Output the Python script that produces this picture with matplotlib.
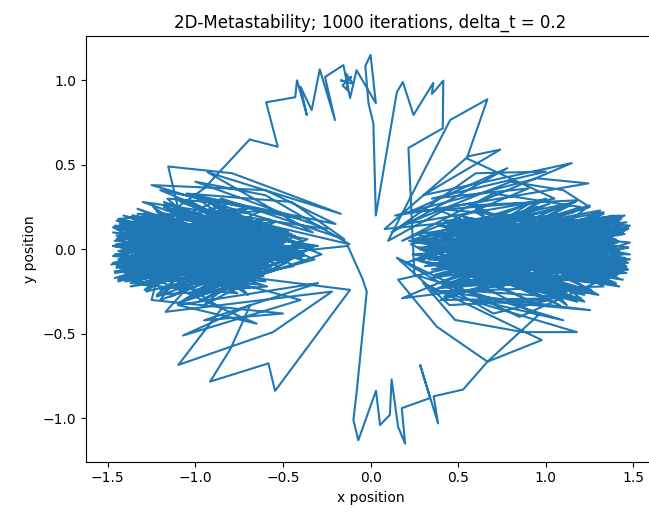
import numpy as np
import matplotlib
matplotlib.use("Agg")
import matplotlib.pyplot as plt

# trajectory pieces (in path order)
right_a_x = [1.36, 0.58, 1.44, 0.42, 1.28, 0.66, 1.47, 0.35, 1.39, 0.51,
             1.31, 0.72, 1.45, 0.46, 1.25, 0.61, 1.42, 0.30, 1.34, 0.55,
             1.48, 0.68, 1.37, 0.40, 1.29, 0.63, 1.43, 0.49, 1.33, 0.76,
             1.46, 0.38, 1.27, 0.57, 1.41, 0.44, 1.35, 0.70, 1.44, 0.33,
             1.30, 0.60, 1.47, 0.47, 1.38, 0.65, 1.24, 0.52, 1.43, 0.41,
             1.36, 0.74, 1.45, 0.36, 1.32, 0.59, 1.40, 0.48, 1.28, 0.69,
             1.46, 0.43, 1.34, 0.62, 1.42, 0.31, 1.37, 0.56, 1.26, 0.67]
right_a_y = [-0.04, 0.10, -0.14, 0.03, 0.16, -0.09, 0.01, -0.17, 0.12, 0.06,
             -0.20, -0.03, 0.09, 0.15, -0.07, -0.12, 0.19, 0.00, -0.10, 0.13,
             0.04, -0.22, -0.16, 0.08, 0.14, 0.02, -0.05, -0.14, 0.22, 0.11,
             -0.11, 0.05, 0.07, -0.19, -0.01, 0.17, 0.11, -0.06, -0.18, 0.09,
             0.15, 0.01, -0.08, -0.11, 0.03, 0.18, -0.24, -0.02, 0.10, 0.14,
             -0.13, -0.15, 0.20, 0.04, -0.03, 0.12, 0.06, -0.21, -0.17, 0.07,
             0.12, -0.04, -0.09, 0.16, 0.18, -0.10, 0.00, 0.03, -0.06, -0.13]

right_c_x = [1.38, 0.52, 1.45, 0.39, 1.30, 0.63, 1.42, 0.45, 1.35, 0.70,
             1.47, 0.34, 1.28, 0.58, 1.40, 0.49, 1.44, 0.67, 1.33, 0.41,
             1.46, 0.55, 1.37, 0.73, 1.26, 0.46, 1.43, 0.60, 1.39, 0.36,
             1.48, 0.64, 1.31, 0.50, 1.41, 0.43, 1.36, 0.69, 1.45, 0.56,
             1.29, 0.38, 1.42, 0.61, 1.34, 0.47, 1.46, 0.72, 1.38, 0.53,
             1.27, 0.44, 1.43, 0.66, 1.40, 0.29, 1.35, 0.59, 1.47, 0.48]
right_c_y = [0.07, -0.05, -0.12, 0.14, 0.02, -0.16, 0.17, 0.05, -0.08, -0.11,
             0.12, 0.09, -0.18, -0.02, 0.05, 0.16, -0.03, -0.13, 0.15, 0.01,
             -0.10, 0.12, 0.09, -0.07, -0.15, 0.04, 0.18, -0.19, 0.00, 0.10,
             -0.06, 0.07, 0.13, -0.14, -0.17, 0.03, 0.04, 0.15, -0.09, -0.04,
             0.19, -0.10, -0.01, 0.08, 0.11, -0.20, -0.14, 0.02, 0.06, 0.13,
             -0.07, -0.08, 0.14, 0.00, -0.21, 0.05, 0.10, -0.12, 0.01, 0.17]

right_fan_x = [0.85, 0.08, 0.557, 0.74, 0.30, 1.148, 0.62, 0.14, 0.95, 1.243,
               0.45, 0.10, 0.454, 0.667, 0.549, 1.05, 0.20, 0.80, 1.10]
right_fan_y = [0.20, 0.12, 0.55, 0.59, 0.32, 0.51, 0.28, 0.20, 0.42, 0.39,
               0.25, 0.05, 0.765, 0.888, 0.538, 0.30, 0.15, 0.40, 0.35]

right_b_x = [1.25, 0.25, 1.30, 0.53, 1.21, 0.39, 1.41, 0.64, 1.33, 0.18,
             1.47, 0.57, 1.18, 0.45, 1.22, 0.71, 1.27, 0.34, 1.33, 0.60,
             1.44, 0.50, 1.27, 0.28, 1.17, 0.66, 1.30, 0.42, 1.31, 0.55,
             1.40, 0.37, 1.48, 0.62, 1.20, 0.47, 1.42, 0.22, 1.34, 0.58,
             1.12, 0.44, 1.45, 0.68, 1.25, 0.32, 1.26, 0.54, 1.41, 0.40]
right_b_y = [0.25, -0.06, -0.27, 0.19, 0.07, -0.23, -0.15, 0.03, 0.21, -0.29,
             -0.12, 0.26, 0.29, -0.10, -0.31, 0.13, 0.16, -0.25, -0.22, 0.22,
             0.10, -0.18, -0.26, 0.00, 0.28, 0.17, -0.08, -0.28, 0.23, 0.08,
             -0.20, 0.24, 0.14, -0.14, -0.29, -0.24, 0.20, 0.05, -0.17, 0.27,
             -0.33, 0.15, 0.11, -0.20, 0.26, -0.05, -0.24, 0.09, 0.05, -0.30]

right_e_x = [1.10, 0.35, 1.02, 0.28, 1.18, 0.40, 0.95, 0.31, 1.12, 0.25,
             1.00, 0.38, 1.20, 0.33, 0.92, 0.42, 1.08, 0.27, 1.16, 0.36,
             0.98, 0.30, 1.14, 0.44, 0.90, 0.23, 1.06, 0.37, 1.22, 0.32]
right_e_y = [-0.29, 0.04, 0.27, -0.07, -0.31, 0.08, 0.25, -0.03, -0.26, 0.06,
             0.30, -0.09, -0.24, 0.02, 0.28, -0.05, -0.33, 0.09, 0.22, -0.01,
             -0.28, 0.07, 0.26, -0.10, -0.30, 0.03, 0.24, -0.06, -0.27, 0.05]

right_d_x = [1.34, 0.62, 1.41, 0.37, 1.46, 0.55, 1.29, 0.68, 1.43, 0.42,
             1.37, 0.57, 1.25, 0.75, 1.45, 0.33, 1.39, 0.51, 1.32, 0.65,
             1.47, 0.40, 1.36, 0.60, 1.42, 0.47, 1.28, 0.71, 1.44, 0.35,
             1.38, 0.54, 1.46, 0.63, 1.30, 0.44, 1.41, 0.58, 1.35, 0.27,
             1.48, 0.66, 1.33, 0.49, 1.40, 0.74, 1.27, 0.39, 1.44, 0.57,
             1.37, 0.45, 1.45, 0.61, 1.31, 0.52, 1.42, 0.24, 1.39, 0.68]
right_d_y = [-0.09, 0.11, 0.04, -0.15, 0.16, 0.06, -0.05, -0.10, 0.10, 0.17,
             -0.17, -0.01, 0.08, 0.12, -0.12, -0.06, 0.20, 0.03, -0.02, -0.18,
             0.13, 0.08, -0.14, 0.15, 0.00, -0.09, -0.19, 0.05, 0.11, -0.12,
             0.03, 0.19, -0.07, -0.04, 0.14, 0.10, -0.11, -0.16, 0.07, 0.01,
             -0.03, 0.14, 0.18, -0.08, -0.16, 0.04, 0.09, -0.20, -0.10, 0.12,
             0.15, 0.02, -0.05, -0.13, 0.12, 0.07, -0.22, -0.03, 0.05, 0.09]

right_fan2_x = [0.95, 0.22, 0.78, 0.12, 0.60, 1.00, 0.35, 0.90, 0.18, 0.70, 1.20]
right_fan2_y = [0.28, 0.22, 0.48, 0.10, 0.45, 0.46, 0.30, 0.36, 0.05, 0.33, 0.25]

right_low2_x = [0.20, 0.70, 1.02, 0.45, 0.15, 0.85, 1.28]
right_low2_y = [-0.08, -0.38, -0.30, -0.33, -0.05, -0.40, -0.20]

right_low_x = [0.50, 0.157, 0.378, 0.667, 0.977, 0.30, 0.482, 0.87, 1.177, 0.40,
               1.253, 0.60, 1.10, 0.25]
right_low_y = [-0.10, -0.18, -0.458, -0.665, -0.537, -0.20, -0.418, -0.49, -0.49, -0.25,
               -0.36, -0.30, -0.42, -0.15]

top_x = [0.216, 0.412, 0.415, 0.368, 0.35, 0.358, 0.245, 0.184, 0.15, 0.03,
         0.016, -0.012, -0.03, 0.0, 0.03, -0.08, -0.117, -0.136, -0.17, -0.10,
         -0.14, -0.13, -0.16, -0.11, -0.136, -0.155, -0.26, -0.203, -0.29, -0.336,
         -0.40, -0.364, -0.42, -0.43, -0.596, -0.53, -0.69]
top_y = [0.60, 0.716, 0.998, 0.94, 0.92, 0.985, 0.795, 0.99, 0.93, 0.20,
         0.745, 0.864, 1.085, 1.15, 0.865, 1.06, 0.895, 0.99, 1.0, 0.98,
         1.04, 0.94, 0.97, 1.02, 0.99, 1.09, 1.02, 0.765, 1.065, 0.824,
         0.962, 0.795, 1.0, 0.90, 0.87, 0.607, 0.65]

left_fan_x = [-0.95, -1.10, -1.155, -0.79, -0.17, -0.93, -0.33, -1.25, -0.60, -0.20,
              -1.05, -0.45, -0.15, -0.85]
left_fan_y = [0.36, 0.25, 0.49, 0.45, 0.21, 0.456, 0.10, 0.38, 0.35, 0.15,
              0.33, 0.28, 0.06, 0.30]

left_a_x = [-1.38, -0.72, -1.44, -0.61, -1.30, -0.83, -1.47, -0.57, -1.35, -0.76,
            -1.41, -0.66, -1.26, -0.88, -1.45, -0.53, -1.33, -0.70, -1.39, -0.62,
            -1.46, -0.79, -1.29, -0.58, -1.42, -0.74, -1.36, -0.48, -1.43, -0.67,
            -1.31, -0.81, -1.48, -0.60, -1.37, -0.73, -1.24, -0.55, -1.40, -0.69,
            -1.45, -0.64, -1.34, -0.86, -1.41, -0.51, -1.27, -0.77, -1.44, -0.63,
            -1.38, -0.71, -1.47, -0.59, -1.32, -0.84, -1.40, -0.45, -1.36, -0.68,
            -1.43, -0.75, -1.28, -0.56, -1.46, -0.65, -1.35, -0.80, -1.39, -0.61]
left_a_y = [0.05, -0.08, 0.12, -0.02, -0.15, 0.09, 0.02, -0.11, 0.18, 0.04,
            -0.06, 0.14, -0.20, -0.05, 0.08, 0.01, -0.12, 0.16, 0.10, -0.14,
            -0.03, 0.07, 0.21, -0.09, -0.17, 0.11, 0.00, -0.03, 0.15, -0.18,
            0.06, 0.19, -0.09, 0.03, -0.22, -0.12, 0.13, 0.08, -0.01, 0.02,
            0.17, -0.16, -0.07, 0.12, 0.04, -0.06, -0.13, 0.22, -0.19, 0.05,
            0.09, -0.10, -0.04, 0.15, 0.11, -0.20, -0.14, 0.01, 0.20, 0.07,
            -0.11, 0.03, 0.07, -0.13, 0.14, 0.10, -0.08, -0.02, 0.02, -0.07]

left_e_x = [-1.15, -0.42, -1.05, -0.36, -1.22, -0.48, -0.98, -0.40, -1.12, -0.32,
            -1.02, -0.45, -1.18, -0.38, -0.95, -0.50, -1.08, -0.34, -1.20, -0.44,
            -1.00, -0.39, -1.14, -0.47, -0.92, -0.28, -1.10, -0.43, -1.25, -0.37,
            -1.04, -0.52, -0.96, -0.41, -1.16, -0.33, -1.06, -0.46, -0.90, -0.40]
left_e_y = [0.27, -0.04, -0.29, 0.06, 0.22, -0.08, -0.31, 0.03, 0.30, -0.06,
            -0.26, 0.09, 0.25, -0.02, -0.33, 0.07, 0.28, 0.00, -0.24, -0.10,
            0.31, 0.05, -0.28, 0.10, 0.24, -0.03, -0.32, 0.08, 0.20, -0.07,
            0.29, -0.11, -0.27, 0.04, 0.23, 0.01, -0.30, 0.06, 0.26, -0.05]

left_fan2_x = [-1.30, -0.25, -1.00, -0.60, -0.12, -0.90, -1.20, -0.40, -0.70, -1.35]
left_fan2_y = [0.28, 0.12, 0.40, 0.32, 0.03, 0.22, 0.35, 0.18, 0.25, 0.05]

left_c_x = [-1.40, -0.65, -1.34, -0.74, -1.45, -0.56, -1.29, -0.80, -1.42, -0.61,
            -1.37, -0.70, -1.47, -0.52, -1.32, -0.77, -1.39, -0.66, -1.44, -0.59,
            -1.27, -0.83, -1.41, -0.63, -1.35, -0.72, -1.46, -0.49, -1.30, -0.68,
            -1.43, -0.75, -1.38, -0.57, -1.45, -0.64, -1.33, -0.79, -1.40, -0.54,
            -1.28, -0.71, -1.44, -0.62, -1.36, -0.85, -1.42, -0.58, -1.31, -0.67,
            -1.47, -0.73, -1.39, -0.60, -1.34, -0.44, -1.41, -0.69, -1.37, -0.76]
left_c_y = [-0.02, 0.06, -0.10, 0.13, 0.03, -0.07, 0.16, -0.13, -0.05, 0.09,
            0.11, -0.15, -0.08, 0.04, 0.14, 0.00, -0.16, 0.10, 0.07, -0.04,
            -0.12, 0.17, 0.01, -0.10, 0.19, 0.05, -0.14, -0.01, 0.09, 0.12,
            -0.03, -0.17, 0.12, 0.08, -0.11, 0.15, 0.04, -0.06, -0.18, 0.03,
            0.16, -0.09, -0.01, 0.13, 0.08, -0.12, -0.07, 0.18, 0.02, -0.08,
            0.10, 0.01, -0.15, 0.11, 0.14, -0.02, -0.04, -0.16, 0.06, 0.10]

left_low_x = [-1.17, -0.22, -0.557, -1.097, -0.85, -1.30, -0.40, -1.07, -0.687, -0.80,
              -0.916, -0.583, -0.545, -0.117, -1.20]
left_low_y = [-0.37, -0.25, -0.49, -0.684, -0.35, -0.05, -0.30, -0.51, -0.33, -0.59,
              -0.783, -0.675, -0.838, -0.24, -0.10]

left_low2_x = [-1.25, -0.50, -0.95, -0.30, -1.10, -0.65, -1.40]
left_low2_y = [-0.30, -0.38, -0.42, -0.20, -0.33, -0.44, -0.10]

left_d_x = [-1.36, -0.60, -1.43, -0.78, -1.31, -0.53, -1.46, -0.70, -1.38, -0.64,
            -1.26, -0.82, -1.41, -0.57, -1.44, -0.74, -1.33, -0.47, -1.40, -0.68,
            -1.47, -0.61, -1.29, -0.76, -1.42, -0.55, -1.35, -0.86, -1.45, -0.63,
            -1.32, -0.71, -1.39, -0.50, -1.44, -0.79, -1.37, -0.58, -1.25, -0.66,
            -1.43, -0.73, -1.46, -0.42, -1.34, -0.69, -1.40, -0.62, -1.30, -0.81,
            -1.45, -0.56, -1.38, -0.75, -1.42, -0.65, -1.36, -0.35, -1.41, -0.72]
left_d_y = [0.08, -0.12, 0.15, 0.02, -0.09, 0.12, -0.17, -0.03, 0.06, 0.17,
            -0.14, 0.04, 0.20, -0.10, -0.06, 0.14, 0.11, -0.05, -0.19, 0.08,
            0.02, -0.16, 0.14, -0.08, -0.13, 0.06, 0.07, 0.15, -0.09, -0.13,
            0.18, 0.00, -0.04, 0.10, 0.13, -0.14, -0.20, 0.05, 0.10, -0.02,
            -0.07, 0.19, 0.05, -0.01, -0.15, -0.09, 0.16, 0.12, -0.11, 0.03,
            0.03, -0.06, 0.13, 0.16, -0.18, -0.11, 0.09, 0.01, 0.00, -0.04]

left_b_x = [-1.33, -0.52, -1.28, -0.78, -1.25, -0.63, -1.46, -0.30, -1.37, -0.70,
            -1.18, -0.58, -1.44, -0.82, -1.20, -0.66, -1.40, -0.47, -1.29, -0.74,
            -1.45, -0.60, -1.24, -0.87, -1.22, -0.55, -1.43, -0.69, -1.38, -0.62,
            -1.47, -0.76, -1.30, -0.50, -1.33, -0.72, -1.22, -0.59, -1.45, -0.81,
            -1.16, -0.64, -1.39, -0.38, -1.44, -0.70, -1.32, -0.57, -1.42, -0.13]
left_b_y = [0.24, -0.05, -0.25, 0.18, 0.08, -0.21, -0.13, 0.02, 0.19, -0.27,
            0.28, 0.06, -0.18, 0.25, -0.30, -0.09, 0.14, 0.11, -0.24, 0.20,
            -0.10, -0.19, 0.25, -0.15, -0.28, 0.16, 0.09, -0.23, -0.16, 0.23,
            0.13, -0.26, -0.21, 0.04, 0.21, 0.17, -0.27, -0.22, 0.06, 0.27,
            0.30, -0.17, -0.14, -0.04, 0.18, 0.24, -0.05, 0.12, -0.12, 0.02]

bottom_x = [-0.044, -0.022, -0.079, -0.098, -0.07, 0.031, 0.054, 0.11, 0.12, 0.157,
            0.197, 0.178, 0.34, 0.283, 0.385, 0.36, 0.528, 0.667, 0.957, 0.45, 1.38, 0.62]
bottom_y = [-0.18, -0.25, -0.84, -1.01, -1.13, -0.837, -1.04, -0.98, -0.77, -1.05,
            -1.15, -0.94, -0.88, -0.685, -1.03, -0.87, -0.83, -0.665, -0.39, -0.12, 0.02, -0.05]

xs = np.concatenate([right_a_x, right_c_x, right_fan_x, right_b_x, right_e_x, right_d_x,
                     right_fan2_x, right_low2_x, right_low_x, top_x, left_fan_x,
                     left_a_x, left_e_x, left_fan2_x, left_c_x, left_low_x,
                     left_low2_x, left_d_x, left_b_x, bottom_x])
ys = np.concatenate([right_a_y, right_c_y, right_fan_y, right_b_y, right_e_y, right_d_y,
                     right_fan2_y, right_low2_y, right_low_y, top_y, left_fan_y,
                     left_a_y, left_e_y, left_fan2_y, left_c_y, left_low_y,
                     left_low2_y, left_d_y, left_b_y, bottom_y])

fig = plt.figure(figsize=(6.49, 5.16), dpi=100)
ax = fig.add_axes([0.132, 0.1052, 0.878, 0.8256])
ax.plot(xs, ys)
ax.set_xlim(-1.626, 1.626)
ax.set_ylim(-1.257, 1.264)
ax.set_title("2D-Metastability; 1000 iterations, delta_t = 0.2")
ax.set_xlabel("x position")
ax.set_ylabel("y position")
fig.savefig("out.png", dpi=100)
